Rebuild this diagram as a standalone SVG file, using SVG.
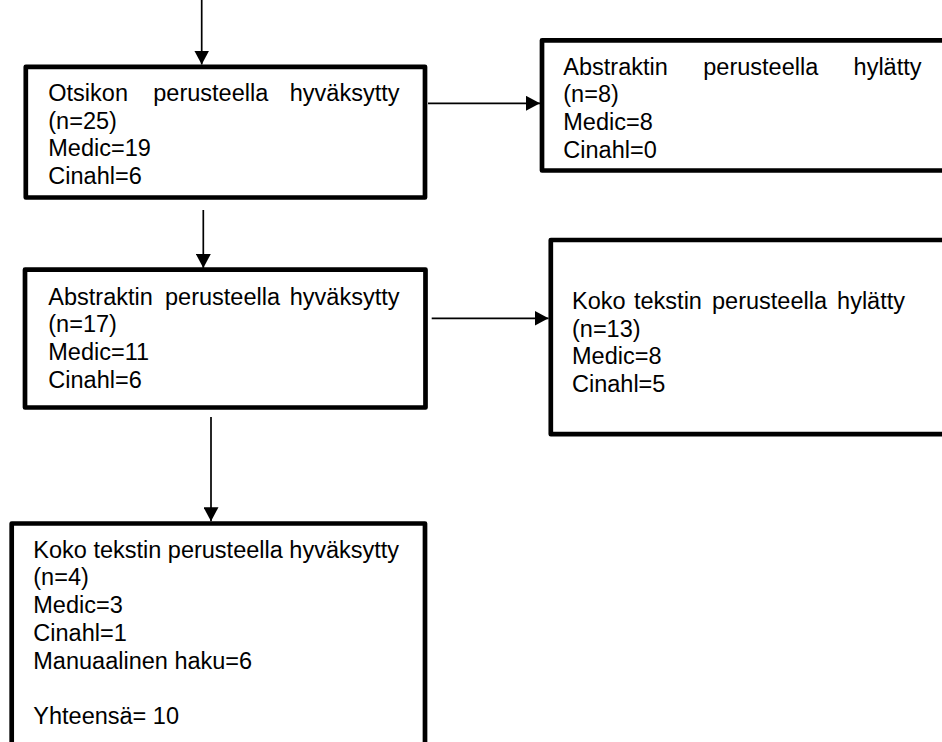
<svg xmlns="http://www.w3.org/2000/svg" width="942" height="742" viewBox="0 0 942 742">
<defs>
<marker id="ah" markerUnits="userSpaceOnUse" markerWidth="15" markerHeight="15" refX="14" refY="7.5" orient="auto">
<path d="M0,0 L14,7.5 L0,15 z" fill="#000"/>
</marker>
<style>
.box{fill:#fff;stroke:#000;stroke-width:4.7;stroke-linejoin:round}
.t{font-family:"Liberation Sans",Arial,sans-serif;font-size:23.5px;fill:#000}
.c{stroke:#000;stroke-width:1.7;fill:none;marker-end:url(#ah)}
</style>
</defs>
<rect width="942" height="742" fill="#fff"/>
<g id="connectors">
<line class="c" x1="201.7" y1="0" x2="201.7" y2="64.5"/>
<line class="c" x1="203.3" y1="210" x2="203.3" y2="268"/>
<line class="c" x1="211" y1="417" x2="211" y2="521.2"/>
<line class="c" x1="428" y1="103.3" x2="540" y2="103.3"/>
<line class="c" x1="431.7" y1="318.3" x2="548.5" y2="318.3"/>
</g>
<g id="n1">
<rect class="box" x="25.8" y="66.8" width="399.2" height="130.7"/>
<text class="t" y="101"><tspan x="48.3">Otsikon</tspan><tspan x="153.3">perusteella</tspan><tspan x="399.5" text-anchor="end">hyväksytty</tspan></text>
<text class="t" x="48.3" y="128.7">(n=25)</text>
<text class="t" x="48.3" y="156.4">Medic=19</text>
<text class="t" x="48.3" y="184.1">Cinahl=6</text>
</g>
<g id="n2">
<rect class="box" x="542" y="40.3" width="420" height="130.2"/>
<text class="t" y="74.5"><tspan x="563.3">Abstraktin</tspan><tspan x="703.3">perusteella</tspan><tspan x="921.5" text-anchor="end">hylätty</tspan></text>
<text class="t" x="563.3" y="102.2">(n=8)</text>
<text class="t" x="563.3" y="129.9">Medic=8</text>
<text class="t" x="563.3" y="157.6">Cinahl=0</text>
</g>
<g id="n3">
<rect class="box" x="25" y="269.7" width="400.5" height="137.8"/>
<text class="t" y="304.5"><tspan x="48.3">Abstraktin</tspan><tspan x="165">perusteella</tspan><tspan x="399.5" text-anchor="end">hyväksytty</tspan></text>
<text class="t" x="48.3" y="332.2">(n=17)</text>
<text class="t" x="48.3" y="359.9">Medic=11</text>
<text class="t" x="48.3" y="387.6">Cinahl=6</text>
</g>
<g id="n4">
<rect class="box" x="550.8" y="240" width="420" height="194.2"/>
<text class="t" y="309"><tspan x="572">Koko</tspan><tspan x="634">tekstin</tspan><tspan x="712">perusteella</tspan><tspan x="905" text-anchor="end">hylätty</tspan></text>
<text class="t" x="572" y="336.7">(n=13)</text>
<text class="t" x="572" y="364.4">Medic=8</text>
<text class="t" x="572" y="392.1">Cinahl=5</text>
</g>
<g id="n5">
<rect class="box" x="11.7" y="523.5" width="413.3" height="240"/>
<text class="t" x="33.3" y="557.7">Koko tekstin perusteella hyväksytty</text>
<text class="t" x="33.3" y="585.4">(n=4)</text>
<text class="t" x="33.3" y="613.1">Medic=3</text>
<text class="t" x="33.3" y="640.8">Cinahl=1</text>
<text class="t" x="33.3" y="668.5">Manuaalinen haku=6</text>
<text class="t" x="33.3" y="723.9">Yhteensä= 10</text>
</g>
</svg>
